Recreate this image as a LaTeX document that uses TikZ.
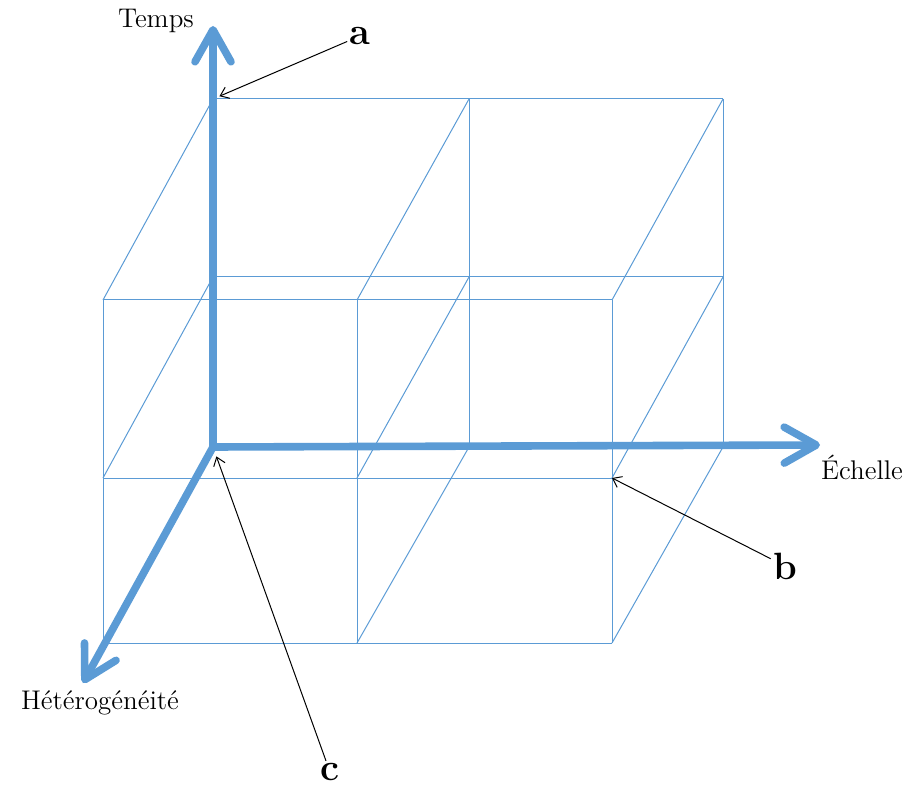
\documentclass[tikz,border=0pt]{standalone}
\usetikzlibrary{arrows.meta}
\definecolor{gridblue}{RGB}{91,155,213}

\begin{document}
\begin{tikzpicture}[
    x=0.5pt, y=-0.5pt,
    gridline/.style={draw=gridblue, line width=0.5pt},
    axis/.style={
        draw=gridblue, line width=3.8pt,
        -{Straight Barb[length=16pt,width=18pt,round]}
    },
    lbl/.style={font=\fontsize{13.5}{16}\selectfont, inner sep=1pt},
    tag/.style={font=\fontsize{19}{22}\selectfont\bfseries, inner sep=1pt},
    note/.style={-{Straight Barb[length=4pt,width=6pt]}, line width=0.5pt, black}
]
    \useasboundingbox (0,0) rectangle (909,790);

    % Back and front faces of the grid
    \foreach \i/\x in {0/213,1/469,2/723}
        \foreach \j/\y in {0/99,1/277,2/447}
            \coordinate (B\i\j) at (\x,\y);
    \foreach \i/\x in {0/103,1/357,2/612}
        \foreach \j/\y in {0/300,1/478,2/643}
            \coordinate (F\i\j) at (\x,\y);

    % Grid lines
    \foreach \k in {0,1,2} {
        \draw[gridline] (B0\k) -- (B2\k);
        \draw[gridline] (F0\k) -- (F2\k);
        \draw[gridline] (B\k0) -- (B\k2);
        \draw[gridline] (F\k0) -- (F\k2);
        \foreach \l in {0,1,2}
            \draw[gridline] (B\k\l) -- (F\k\l);
    }

    % Axes
    \coordinate (O)  at (213,447);
    \coordinate (Tt) at (213,26);
    \coordinate (Et) at (820,445);
    \coordinate (Ht) at (83,683);
    \draw[axis] (O) -- (Tt);
    \draw[axis] (O) -- (Et);
    \draw[axis] (O) -- (Ht);

    % Axis labels
    \node[lbl] (temps) at (156,21)  {Temps};
    \node[lbl] (ech)   at (862,467) {Échelle};
    \node[lbl] (het)   at (100,703) {Hétérogénéité};

    % Pointers
    \node[tag] (a) at (360,36)  {a};
    \node[tag] (b) at (785,566) {b};
    \node[tag] (c) at (330,772) {c};
    \draw[note, shorten >=3.5pt] (a) -- (B00);
    \draw[note] (b) -- (F21);
    \draw[note, shorten >=5pt] (c) -- (O);
\end{tikzpicture}
\end{document}
